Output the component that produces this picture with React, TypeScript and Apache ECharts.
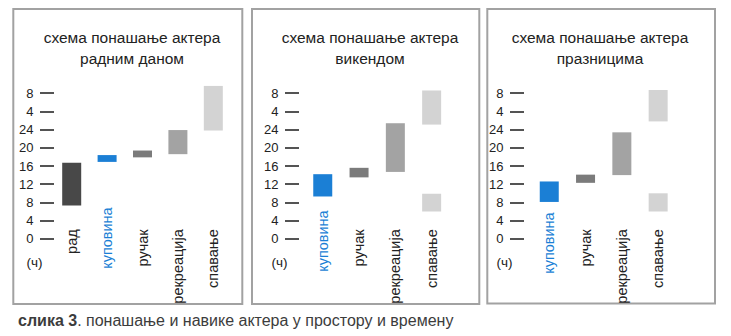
import React, { useEffect, useRef } from "react";
import * as echarts from "echarts";

// ---- data (hours; values above 24 are after midnight) ----
const weekdayCats = ["рад", "куповина", "ручак", "рекреација", "спавање"];
const weekdayFrom = [7.3, 16.9, 17.9, 18.6, 23.8];
const weekdayTo = [16.7, 18.4, 19.4, 23.9, 33.6];
const weekdayColors = ["#484848", "#1b7fd5", "#7b7b7b", "#a3a3a3", "#d3d3d3"];

const weekendCats = ["куповина", "ручак", "рекреација", "спавање"];
const weekendFrom = [9.3, 13.5, 14.7, 25.1];
const weekendTo = [14.2, 15.6, 25.4, 32.6];
const weekendSleepMorning = [6.0, 9.9];
const weekendColors = ["#1b7fd5", "#7b7b7b", "#a3a3a3", "#d3d3d3"];

const holidayCats = ["куповина", "ручак", "рекреација", "спавање"];
const holidayFrom = [8.1, 12.3, 14.0, 25.8];
const holidayTo = [12.6, 14.1, 23.4, 32.7];
const holidaySleepMorning = [6.0, 10.0];
const holidayColors = ["#1b7fd5", "#7b7b7b", "#a3a3a3", "#d3d3d3"];

const yTicks = [0, 4, 8, 12, 16, 20, 24, 28, 32];
const titles = [
  "схема понашање актера\nрадним даном",
  "схема понашање актера\nвикендом",
  "схема понашање актера\nпразницима",
];
const caption = "понашање и навике актера у простору и времену";
const captionBold = "слика 3";
const unitLabel = "(ч)";
const blueCat = "куповина";

const FONT = "Liberation Sans";
const TEXT = "#222222";
const BLUE = "#1b7fd5";

type Panel = {
  cats: string[];
  from: number[];
  to: number[];
  extra: number[] | null; // extra lower block for last category
  colors: string[];
  grid: { left: number; width: number };
  axisX: number;
  blueMargin: number;
};

const panels: Panel[] = [
  { cats: weekdayCats, from: weekdayFrom, to: weekdayTo, extra: null, colors: weekdayColors, grid: { left: 54, width: 177 }, axisX: 40, blueMargin: -31.5 },
  { cats: weekendCats, from: weekendFrom, to: weekendTo, extra: weekendSleepMorning, colors: weekendColors, grid: { left: 304.6, width: 145.2 }, axisX: 285, blueMargin: -28.5 },
  { cats: holidayCats, from: holidayFrom, to: holidayTo, extra: holidaySleepMorning, colors: holidayColors, grid: { left: 531.1, width: 145.2 }, axisX: 510, blueMargin: -26.5 },
];

const GRID_TOP = 93.2;
const GRID_H = 145.6;

function buildOption() {
  const grid: any[] = [];
  const xAxis: any[] = [];
  const yAxis: any[] = [];
  const series: any[] = [];

  panels.forEach((p, i) => {
    grid.push({ left: p.grid.left, width: p.grid.width, top: GRID_TOP, height: GRID_H, outerBoundsMode: "none" });
    xAxis.push({
      type: "category", gridIndex: i, data: p.cats, position: "bottom",
      axisLine: { show: false }, axisTick: { show: false },
      axisLabel: {
        interval: 0, rotate: 90, margin: -9.5, fontSize: 14.5, fontFamily: FONT, color: TEXT,
        formatter: (v: string) => (v === blueCat ? "" : v),
      },
    });
    xAxis.push({
      type: "category", gridIndex: i, data: p.cats, position: "bottom",
      axisLine: { show: false }, axisTick: { show: false },
      axisLabel: {
        interval: 0, rotate: 90, margin: p.blueMargin, fontSize: 14.5, fontFamily: FONT, color: BLUE,
        formatter: (v: string) => (v === blueCat ? v : ""),
      },
    });
    yAxis.push({
      type: "value", gridIndex: i, min: yTicks[0], max: yTicks[yTicks.length - 1], interval: 4,
      offset: p.grid.left - p.axisX,
      axisLine: { show: false }, splitLine: { show: false },
      axisTick: { show: true, inside: true, length: 14, lineStyle: { color: "#2a2a2a", width: 1.6 } },
      axisLabel: { margin: 6.5, fontSize: 13, fontFamily: FONT, color: TEXT, formatter: (v: number) => String(v > 24 ? v - 24 : v) },
      name: unitLabel, nameLocation: "start", nameGap: 24,
      nameTextStyle: { fontSize: 13.5, fontFamily: FONT, color: TEXT, align: "center", verticalAlign: "middle", padding: [0, 11, 0, 0] },
    });

    const n = p.cats.length;
    const last = n - 1;
    const blocks = p.cats.map((_, k) => {
      const b: number[][] = [];
      if (k === last && p.extra) b.push(p.extra);
      b.push([p.from[k], p.to[k]]);
      return b;
    });
    const base = blocks.map((b) => b[0][0]);
    const seg1 = blocks.map((b, k) => ({ value: b[0][1] - b[0][0], itemStyle: { color: p.colors[k] } }));
    const gap = blocks.map((b) => (b.length > 1 ? b[1][0] - b[0][1] : "-"));
    const seg2 = blocks.map((b, k) => (b.length > 1 ? { value: b[1][1] - b[1][0], itemStyle: { color: p.colors[k] } } : "-"));
    const common = { type: "bar", stack: "s" + i, xAxisIndex: i * 2, yAxisIndex: i, barWidth: 19, clip: false, silent: true };
    series.push({ ...common, name: "base" + i, data: base, itemStyle: { color: "rgba(0,0,0,0)" } });
    series.push({ ...common, name: "seg" + i, data: seg1 });
    series.push({ ...common, name: "gap" + i, data: gap, itemStyle: { color: "rgba(0,0,0,0)" } });
    series.push({ ...common, name: "seg2" + i, data: seg2 });
  });

  const borders = [
    { x: 13.3, y: 9, w: 229, h: 295 },
    { x: 252, y: 9, w: 227.3, h: 295 },
    { x: 487.3, y: 9, w: 227.7, h: 294.5 },
  ];
  const titleX = [132, 370, 600];

  const graphic: any[] = [];
  borders.forEach((b) =>
    graphic.push({ type: "rect", silent: true, shape: { x: b.x, y: b.y, width: b.w, height: b.h }, style: { fill: "none", stroke: "#a2a2a2", lineWidth: 2 } })
  );
  titles.forEach((t, i) =>
    graphic.push({ type: "text", x: titleX[i], y: 47.5, style: { text: t, align: "center", verticalAlign: "middle", fontSize: 15.5, lineHeight: 21, fontFamily: FONT, fill: TEXT } })
  );
  graphic.push({
    type: "text", x: 18, y: 320,
    style: {
      text: "{b|" + captionBold + "}. " + caption, verticalAlign: "middle", fontSize: 16, fontFamily: FONT, fill: "#3c3c3c",
      rich: { b: { fontWeight: "bold", fontSize: 16, fontFamily: FONT, fill: "#3c3c3c" } },
    },
  });

  return { animation: false, backgroundColor: "#ffffff", grid, xAxis, yAxis, series, graphic };
}

export default function App() {
  const ref = useRef<HTMLDivElement>(null);
  useEffect(() => {
    if (!ref.current) return;
    const chart = echarts.init(ref.current, undefined, { renderer: "svg" });
    chart.setOption(buildOption() as any);
    return () => chart.dispose();
  }, []);
  return <div ref={ref} style={{ position: "fixed", left: 0, top: 0, width: 731, height: 336, background: "#fff" }} />;
}
